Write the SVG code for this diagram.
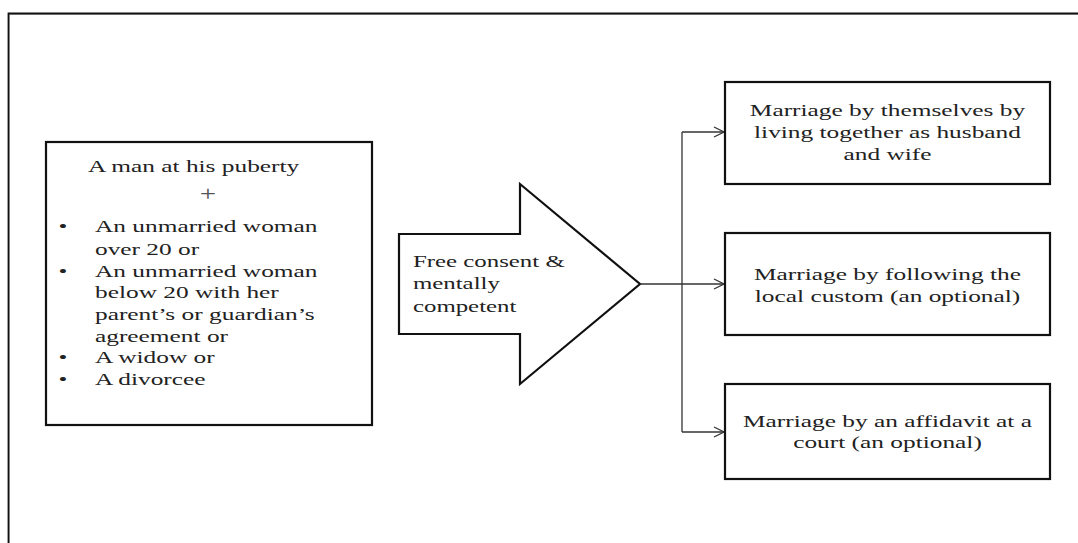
<svg xmlns="http://www.w3.org/2000/svg" width="1078" height="543" viewBox="0 0 1078 543">
<defs>
<style>
.t{font-family:"Liberation Serif","Times New Roman",serif;font-size:17.5px;fill:#222}
.c{text-anchor:middle}
.box{fill:#fff;stroke:#111;stroke-width:2.2}
.conn{fill:none;stroke:#333;stroke-width:1.3}
</style>
<marker id="ah" markerWidth="12" markerHeight="12" refX="11" refY="6" orient="auto" markerUnits="userSpaceOnUse">
<path d="M1,1 L11,6 L1,11" fill="none" stroke="#333" stroke-width="1.3"/>
</marker>
</defs>
<rect width="1078" height="543" fill="#fff"/>
<g id="frame">
<path d="M9.5,545 V14.5 H1080" fill="none" stroke="#c8c8c8" stroke-width="1"/>
<path d="M8.5,545 V13.5 H1080" fill="none" stroke="#111" stroke-width="1.8"/>
</g>
<g id="parties">
<rect class="box" x="46" y="142" width="326" height="283"/>
<g transform="scale(1.45,1)">
<text class="t" x="60.7" y="172">A man at his puberty</text>
<text class="t c" x="143.4" y="201" style="font-size:20px;fill:#555">+</text>
<text class="t" x="40.4" y="232">•</text>
<text class="t" x="65.5" y="232">An unmarried woman</text>
<text class="t" x="65.5" y="255">over 20 or</text>
<text class="t" x="40.4" y="277">•</text>
<text class="t" x="65.5" y="277">An unmarried woman</text>
<text class="t" x="65.5" y="298">below 20 with her</text>
<text class="t" x="65.5" y="320">parent’s or guardian’s</text>
<text class="t" x="65.5" y="342">agreement  or</text>
<text class="t" x="40.4" y="363">•</text>
<text class="t" x="65.5" y="363">A widow or</text>
<text class="t" x="40.4" y="385">•</text>
<text class="t" x="65.5" y="385">A divorcee</text>
</g>
</g>
<g id="condition">
<path d="M399,234 H520 V184 L640,284 L520,384 V334 H399 Z" fill="#fff" stroke="#111" stroke-width="2.2"/>
<g transform="scale(1.42,1)">
<text class="t" x="290.8" y="267">Free consent  &amp;</text>
<text class="t" x="290.8" y="289">mentally</text>
<text class="t" x="290.8" y="312">competent</text>
</g>
</g>
<g id="connectors">
<path class="conn" d="M640,284 H682"/>
<path class="conn" d="M682,132 V432"/>
<path class="conn" d="M682,132 H724" marker-end="url(#ah)"/>
<path class="conn" d="M682,284 H724" marker-end="url(#ah)"/>
<path class="conn" d="M682,432 H724" marker-end="url(#ah)"/>
</g>
<g id="cohabitation">
<rect class="box" x="725" y="82" width="325" height="102"/>
<g transform="translate(887.5,0) scale(1.45,1)">
<text class="t c" x="0" y="116">Marriage by themselves by</text>
<text class="t c" x="0" y="138">living together as husband</text>
<text class="t c" x="0" y="160">and wife</text>
</g>
</g>
<g id="custom">
<rect class="box" x="725" y="233" width="325" height="102"/>
<g transform="translate(887.5,0) scale(1.45,1)">
<text class="t c" x="0" y="280">Marriage by following the</text>
<text class="t c" x="0" y="302">local custom (an optional)</text>
</g>
</g>
<g id="affidavit">
<rect class="box" x="725" y="384" width="325" height="95"/>
<g transform="translate(887.5,0) scale(1.45,1)">
<text class="t c" x="0" y="427">Marriage by an affidavit  at a</text>
<text class="t c" x="0" y="448">court (an optional)</text>
</g>
</g>
</svg>
